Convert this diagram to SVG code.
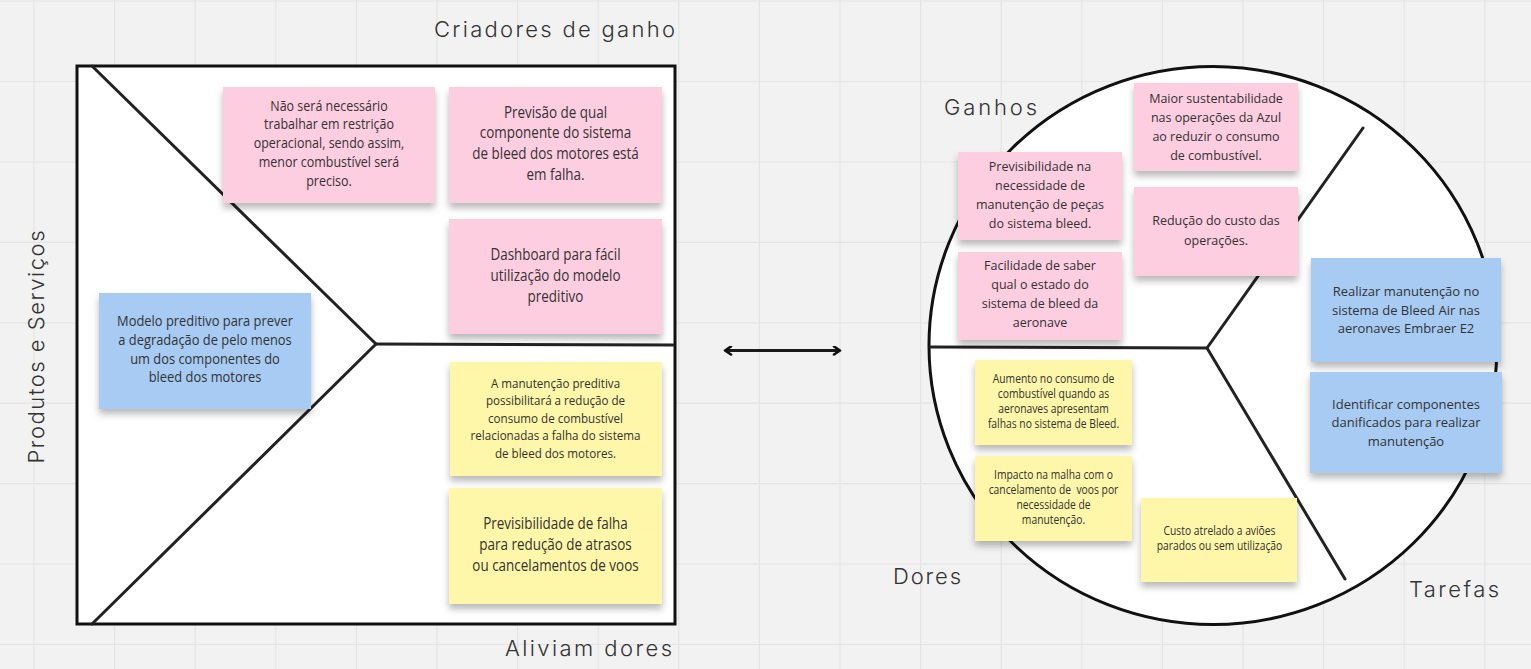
<svg xmlns="http://www.w3.org/2000/svg" width="1531" height="669" viewBox="0 0 1531 669">
<defs>
<style>
.grid line{stroke:#e4e4e4;stroke-width:1.2}
.frame{fill:#fff;stroke:#111;stroke-width:3}
.div{fill:none;stroke:#222;stroke-width:3;stroke-linecap:round;stroke-linejoin:round}
.lbl{font-family:Inter,Lato,"Noto Sans",sans-serif;font-weight:300;font-size:22px;fill:#333}
.pink{fill:#fdcde0}
.blue{fill:#a7cbf3}
.yel{fill:#fef6a8}
.t{font-family:"Open Sans","Noto Sans",sans-serif;fill:#333;text-anchor:middle}
.cond{font-family:"Open Sans","Noto Sans",sans-serif;fill:#333;text-anchor:middle}
</style>
<filter id="sh" x="-10%" y="-10%" width="120%" height="130%">
<feDropShadow dx="0" dy="5" stdDeviation="3.5" flood-color="#000" flood-opacity="0.28"/>
</filter>
<marker id="ah" viewBox="0 0 10 10" refX="8" refY="5" markerWidth="10" markerHeight="10" markerUnits="userSpaceOnUse" orient="auto-start-reverse">
<path d="M2,1 L8,5 L2,9" fill="none" stroke="#111" stroke-width="2.6" stroke-linecap="round" stroke-linejoin="round"/>
</marker>
</defs>
<rect width="1531" height="669" fill="#f2f2f2"/>
<g class="grid">
<line x1="34" y1="0" x2="34" y2="669"/><line x1="114.6" y1="0" x2="114.6" y2="669"/><line x1="195.2" y1="0" x2="195.2" y2="669"/><line x1="275.8" y1="0" x2="275.8" y2="669"/><line x1="356.4" y1="0" x2="356.4" y2="669"/><line x1="437" y1="0" x2="437" y2="669"/><line x1="517.6" y1="0" x2="517.6" y2="669"/><line x1="598.2" y1="0" x2="598.2" y2="669"/><line x1="678.8" y1="0" x2="678.8" y2="669"/><line x1="759.4" y1="0" x2="759.4" y2="669"/><line x1="840" y1="0" x2="840" y2="669"/><line x1="920.6" y1="0" x2="920.6" y2="669"/><line x1="1001.2" y1="0" x2="1001.2" y2="669"/><line x1="1081.8" y1="0" x2="1081.8" y2="669"/><line x1="1162.4" y1="0" x2="1162.4" y2="669"/><line x1="1243" y1="0" x2="1243" y2="669"/><line x1="1323.6" y1="0" x2="1323.6" y2="669"/><line x1="1404.2" y1="0" x2="1404.2" y2="669"/><line x1="1484.8" y1="0" x2="1484.8" y2="669"/>
<line x1="0" y1="1" x2="1531" y2="1"/><line x1="0" y1="81.5" x2="1531" y2="81.5"/><line x1="0" y1="162" x2="1531" y2="162"/><line x1="0" y1="242.4" x2="1531" y2="242.4"/><line x1="0" y1="322.8" x2="1531" y2="322.8"/><line x1="0" y1="403.2" x2="1531" y2="403.2"/><line x1="0" y1="483.6" x2="1531" y2="483.6"/><line x1="0" y1="564" x2="1531" y2="564"/><line x1="0" y1="644.5" x2="1531" y2="644.5"/>
</g>

<g id="value-map">
<rect class="frame" x="77" y="66" width="598" height="558"/>
<polyline class="div" points="92,66 376,344 92,624"/>
<line class="div" x1="376" y1="344" x2="673" y2="345"/>
</g>
<text id="lbl-criadores" class="lbl" x="434" y="37" textLength="241" lengthAdjust="spacing">Criadores de ganho</text>
<text id="lbl-aliviam" class="lbl" x="505" y="656" textLength="167" lengthAdjust="spacing">Aliviam dores</text>
<text id="lbl-produtos" class="lbl" transform="translate(44,463.5) rotate(-90)" x="0" y="0" textLength="233" lengthAdjust="spacing">Produtos e Serviços</text>

<g id="customer-profile">
<ellipse cx="1213" cy="345.5" rx="284" ry="279" fill="#fff" stroke="#111" stroke-width="3"/>
<polyline class="div" points="930,347 1207,348 1363,128"/>
<line class="div" x1="1207" y1="348" x2="1345" y2="579"/>
</g>
<text id="lbl-ganhos" class="lbl" x="944" y="115" textLength="93" lengthAdjust="spacing">Ganhos</text>
<text id="lbl-dores" class="lbl" x="893" y="584" textLength="68" lengthAdjust="spacing">Dores</text>
<text id="lbl-tarefas" class="lbl" x="1409" y="597" textLength="90" lengthAdjust="spacing">Tarefas</text>

<g id="connectors">
<line x1="725" y1="350.5" x2="840" y2="350.5" stroke="#1a1a1a" stroke-width="3" marker-start="url(#ah)" marker-end="url(#ah)"/>
</g>

<g id="note-nao-sera">
<rect class="pink" x="223" y="87" width="212" height="116" filter="url(#sh)"/>
<g transform="translate(329,0) scale(0.86,1)"><text class="cond" font-size="14.5">
<tspan x="0" y="111">Não será necessário</tspan><tspan x="0" y="129.5">trabalhar em restrição</tspan><tspan x="0" y="148">operacional, sendo assim,</tspan><tspan x="0" y="167">menor combustível será</tspan><tspan x="0" y="186">preciso.</tspan></text></g>
</g>
<g id="note-previsao">
<rect class="pink" x="449" y="87" width="213" height="116" filter="url(#sh)"/>
<g transform="translate(555.5,0) scale(0.84,1)"><text class="cond" font-size="16">
<tspan x="0" y="118">Previsão de qual</tspan><tspan x="0" y="138.5">componente do sistema</tspan><tspan x="0" y="159.5">de bleed dos motores está</tspan><tspan x="0" y="180.5">em falha.</tspan></text></g>
</g>
<g id="note-dashboard">
<rect class="pink" x="449" y="219" width="213" height="115" filter="url(#sh)"/>
<g transform="translate(555.5,0) scale(0.84,1)"><text class="cond" font-size="16">
<tspan x="0" y="260.5">Dashboard para fácil</tspan><tspan x="0" y="281.5">utilização do modelo</tspan><tspan x="0" y="302.5">preditivo</tspan></text></g>
</g>
<g id="note-modelo">
<rect class="blue" x="99" y="293" width="212" height="116" filter="url(#sh)"/>
<g transform="translate(205,0) scale(0.86,1)"><text class="cond" font-size="15">
<tspan x="0" y="326.5">Modelo preditivo para prever</tspan><tspan x="0" y="345.5">a degradação de pelo menos</tspan><tspan x="0" y="364">um dos componentes do</tspan><tspan x="0" y="382.5">bleed dos motores</tspan></text></g>
</g>
<g id="note-manutencao">
<rect class="yel" x="450" y="362" width="212" height="114" filter="url(#sh)"/>
<g transform="translate(555.5,0) scale(0.86,1)"><text class="cond" font-size="13.5">
<tspan x="0" y="388">A manutenção preditiva</tspan><tspan x="0" y="405.5">possibilitará a redução de</tspan><tspan x="0" y="423">consumo de combustível</tspan><tspan x="0" y="440.5">relacionadas a falha do sistema</tspan><tspan x="0" y="458">de bleed dos motores.</tspan></text></g>
</g>
<g id="note-previsibilidade-falha">
<rect class="yel" x="449" y="488" width="213" height="116" filter="url(#sh)"/>
<g transform="translate(555.5,0) scale(0.84,1)"><text class="cond" font-size="16">
<tspan x="0" y="529.5">Previsibilidade de falha</tspan><tspan x="0" y="550.5">para redução de atrasos</tspan><tspan x="0" y="571.5">ou cancelamentos de voos</tspan></text></g>
</g>

<g id="note-sustentabilidade">
<rect class="pink" x="1134" y="83" width="164" height="88" filter="url(#sh)"/>
<text class="t" font-size="12.5"><tspan x="1216" y="103">Maior sustentabilidade</tspan><tspan x="1216" y="122">nas operações da Azul</tspan><tspan x="1216" y="141">ao reduzir o consumo</tspan><tspan x="1216" y="159.5">de combustível.</tspan></text>
</g>
<g id="note-previsibilidade-manut">
<rect class="pink" x="958" y="152" width="164" height="88" filter="url(#sh)"/>
<text class="t" font-size="12.5"><tspan x="1040" y="171">Previsibilidade na</tspan><tspan x="1040" y="190">necessidade de</tspan><tspan x="1040" y="209">manutenção de peças</tspan><tspan x="1040" y="228">do sistema bleed.</tspan></text>
</g>
<g id="note-facilidade">
<rect class="pink" x="958" y="252" width="164" height="88" filter="url(#sh)"/>
<text class="t" font-size="12.5"><tspan x="1040" y="270">Facilidade de saber</tspan><tspan x="1040" y="289">qual o estado do</tspan><tspan x="1040" y="308">sistema de bleed da</tspan><tspan x="1040" y="327">aeronave</tspan></text>
</g>
<g id="note-reducao-custo">
<rect class="pink" x="1134" y="187" width="164" height="89" filter="url(#sh)"/>
<text class="t" font-size="12.5"><tspan x="1216" y="225">Redução do custo das</tspan><tspan x="1216" y="244.5">operações.</tspan></text>
</g>
<g id="note-aumento">
<rect class="yel" x="975" y="360" width="157" height="85" filter="url(#sh)"/>
<g transform="translate(1053.5,0) scale(0.86,1)"><text class="cond" font-size="12">
<tspan x="0" y="383.5">Aumento no consumo de</tspan><tspan x="0" y="398.5">combustível quando as</tspan><tspan x="0" y="413.5">aeronaves apresentam</tspan><tspan x="0" y="428.5">falhas no sistema de Bleed.</tspan></text></g>
</g>
<g id="note-impacto">
<rect class="yel" x="975" y="456" width="157" height="85" filter="url(#sh)"/>
<g transform="translate(1053.5,0) scale(0.86,1)"><text class="cond" font-size="12">
<tspan x="0" y="479.5">Impacto na malha com o</tspan><tspan x="0" y="494.5">cancelamento de&#160; voos por</tspan><tspan x="0" y="509.5">necessidade de</tspan><tspan x="0" y="524.5">manutenção.</tspan></text></g>
</g>
<g id="note-custo-avioes">
<rect class="yel" x="1141" y="498" width="156" height="84" filter="url(#sh)"/>
<g transform="translate(1219.5,0) scale(0.86,1)"><text class="cond" font-size="12">
<tspan x="0" y="535.5">Custo atrelado a aviões</tspan><tspan x="0" y="550.5">parados ou sem utilização</tspan></text></g>
</g>
<g id="note-realizar">
<rect class="blue" x="1311" y="258" width="190" height="104" filter="url(#sh)"/>
<text class="t" font-size="13"><tspan x="1406" y="295.5">Realizar manutenção no</tspan><tspan x="1406" y="314.5">sistema de Bleed Air nas</tspan><tspan x="1406" y="333">aeronaves Embraer E2</tspan></text>
</g>
<g id="note-identificar">
<rect class="blue" x="1310" y="372" width="192" height="101" filter="url(#sh)"/>
<text class="t" font-size="13"><tspan x="1406" y="408.5">Identificar componentes</tspan><tspan x="1406" y="427">danificados para realizar</tspan><tspan x="1406" y="445.5">manutenção</tspan></text>
</g>
</svg>
